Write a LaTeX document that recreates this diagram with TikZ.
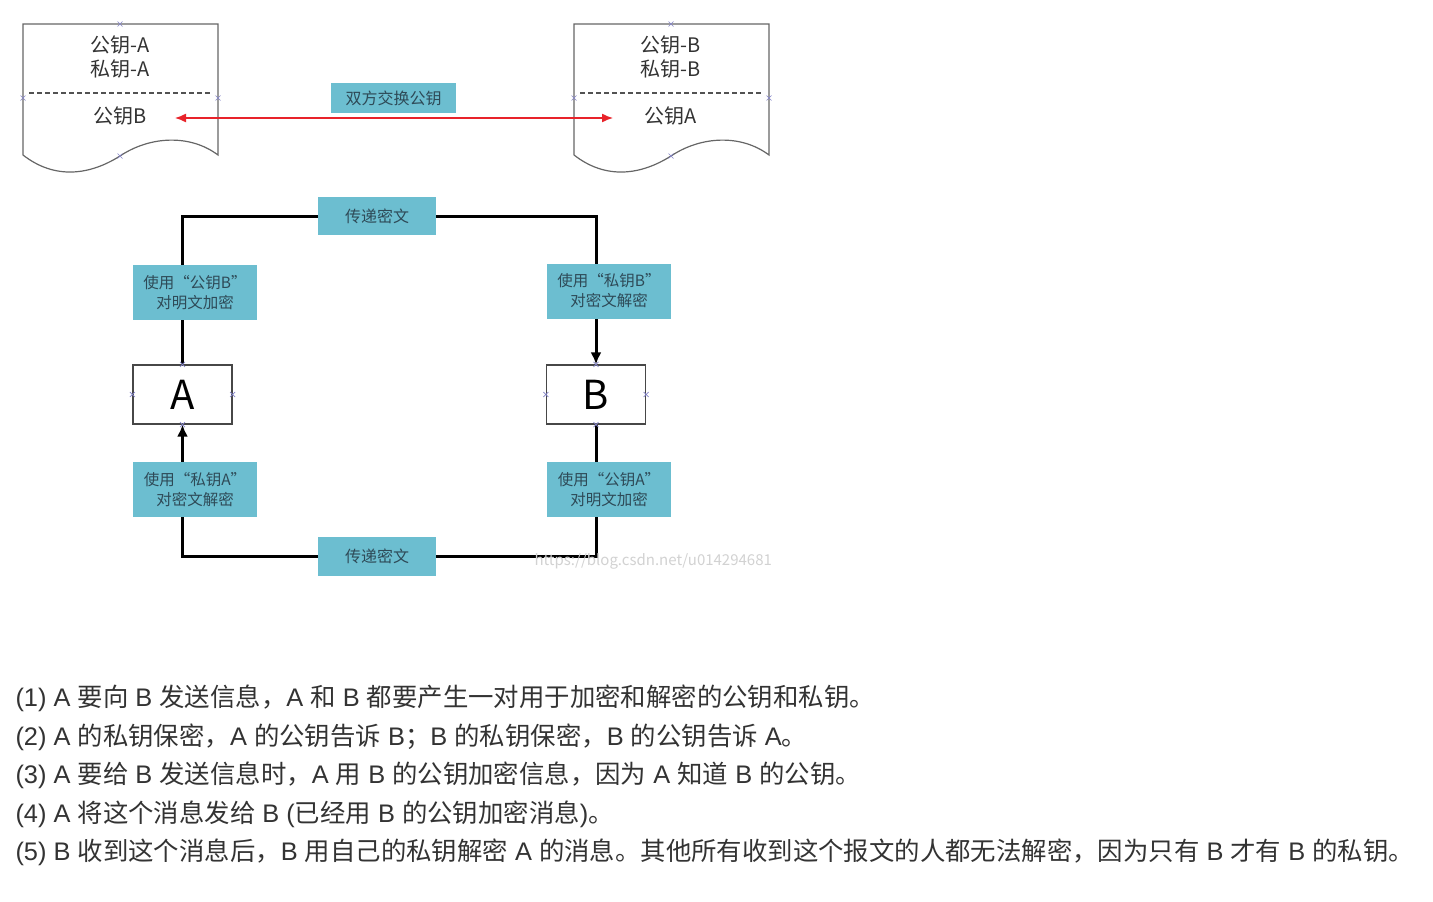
\documentclass[tikz,border=0pt]{standalone}
\usepackage{fontspec}
\setmainfont{Noto Sans CJK SC}
\newfontfamily\latf{Liberation Sans}
\newcommand\la[1]{{\latf #1}}
\usetikzlibrary{arrows.meta,backgrounds}

\definecolor{pkteal}{HTML}{6CBED0}
\definecolor{pkred}{HTML}{E8232A}
\definecolor{pkedge}{HTML}{666666}
\definecolor{pkink}{HTML}{333333}
\definecolor{pkboxink}{HTML}{2E4A57}
\definecolor{pkmark}{HTML}{8484C8}
\definecolor{pkwater}{HTML}{D2D2D2}

\begin{document}
\begin{tikzpicture}[
  x=1pt, y=-1pt,
  doc/.style={draw=pkedge, line width=1.2pt},
  sep/.style={draw=pkedge!80!black, line width=1.3pt, dash pattern=on 5pt off 3pt},
  keytxt/.style={font=\fontsize{20}{24}\selectfont, text=pkink, align=center},
  tealbox/.style={fill=pkteal, text=pkboxink, font=\fontsize{15.5}{20}\selectfont, align=center,
                  inner sep=0pt, minimum width=124pt, minimum height=55pt},
  party/.style={draw=pkedge!70!black, line width=1.2pt, fill=white, inner sep=0pt,
                minimum width=99pt, minimum height=59pt, font=\fontsize{40}{40}\selectfont},
  flow/.style={draw=black, line width=3pt},
  swap/.style={draw=pkred, line width=1.4pt, {Latex[length=11pt,width=9pt]}-{Latex[length=11pt,width=9pt]}},
  cpt/.style={draw=pkmark, line width=0.6pt},
  para/.style={font=\fontsize{25.4}{30}\selectfont, text=pkink, anchor=base west},
]
  \begin{scope}[on background layer]
    \fill[white] (0,0) rectangle (1433,902);
  \end{scope}
  \useasboundingbox (0,0) rectangle (1433,902);

  % the two key sheets
  \foreach \dx in {0,551} {
    \draw[doc] (23+\dx,155) -- (23+\dx,24) -- (218+\dx,24) -- (218+\dx,155)
      .. controls (190+\dx,134) and (150+\dx,136) .. (120+\dx,156)
      .. controls (90+\dx,175) and (55+\dx,180) .. (23+\dx,155);
    \draw[sep] (29+\dx,93) -- (212+\dx,93);
  }
  \node[keytxt] (keysA) at (120,57) {公钥-A\\私钥-A};
  \node[keytxt] (pubB) at (120,116) {公钥B};
  \node[keytxt] (keysB) at (671,57) {公钥-B\\私钥-B};
  \node[keytxt] (pubA) at (671,116) {公钥A};

  % exchange of public keys
  \coordinate (sa) at (175,118);
  \coordinate (sb) at (613,118);
  \draw[swap] (sa) -- (sb);
  \node[tealbox, minimum width=125pt, minimum height=30pt, font=\fontsize{16}{16}\selectfont]
    (swaplbl) at (393.5,98) {双方交换公钥};

  % the round trip
  \node[party] (A) at (182.5,394.5) {A};
  \node[party] (B) at (596,394.5) {B};
  \node[tealbox, minimum width=118pt, minimum height=38pt, font=\fontsize{16}{16}\selectfont]
    (ctop) at (377,216) {传递密文};
  \node[tealbox, minimum width=118pt, minimum height=39pt, font=\fontsize{16}{16}\selectfont]
    (cbot) at (377,556.5) {传递密文};
  \node[tealbox] (encB) at (195,292.5) {使用“公钥B”\\对明文加密};
  \node[tealbox] (decB) at (609,291) {使用“私钥B”\\对密文解密};
  \node[tealbox] (decA) at (195,489.5) {使用“私钥A”\\对密文解密};
  \node[tealbox] (encA) at (609,489.5) {使用“公钥A”\\对明文加密};

  \begin{scope}[on background layer]
    \draw[flow] (A.north) -- (A.north |- ctop.west) -- (ctop.west);
    \draw[flow, -{Latex[length=12pt,width=11pt]}] (ctop.east) -- (B.north |- ctop.east) -- (B.north);
    \draw[flow] (B.south) -- (B.south |- cbot.east) -- (cbot.east);
    \draw[flow, -{Latex[length=12pt,width=11pt]}] (cbot.west) -- (A.south |- cbot.west) -- (A.south);
  \end{scope}

  % connection points left in the drawing
  \foreach \p in {A.north,A.south,A.west,A.east,B.north,B.south,B.west,B.east,
                  {120,24},{23,98},{218,98},{120,156},{671,24},{574,98},{769,98},{671,156}}
    \draw[cpt] (\p) +(-2.5,-2.5) -- +(2.5,2.5) +(-2.5,2.5) -- +(2.5,-2.5);

  \node[text=pkwater, font=\fontsize{15}{15}\selectfont, anchor=west] (wmark) at (531,561)
    {https://blog.csdn.net/u014294681};

  % the steps
  \node[para] (p1) at (12,706) {\la{(1) A }要向\la{ B }发送信息，\la{A }和\la{ B }都要产生一对用于加密和解密的公钥和私钥。};
  \node[para] (p2) at (12,745) {\la{(2) A }的私钥保密，\la{A }的公钥告诉\la{ B}；\la{B }的私钥保密，\la{B }的公钥告诉\la{ A}。};
  \node[para] (p3) at (12,783) {\la{(3) A }要给\la{ B }发送信息时，\la{A }用\la{ B }的公钥加密信息，因为\la{ A }知道\la{ B }的公钥。};
  \node[para] (p4) at (12,822) {\la{(4) A }将这个消息发给\la{ B (}已经用\la{ B }的公钥加密消息\la{)}。};
  \node[para] (p5) at (12,860) {\la{(5) B }收到这个消息后，\la{B }用自己的私钥解密\la{ A }的消息。其他所有收到这个报文的人都无法解密，因为只有\la{ B }才有\la{ B }的私钥。};
\end{tikzpicture}
\end{document}
